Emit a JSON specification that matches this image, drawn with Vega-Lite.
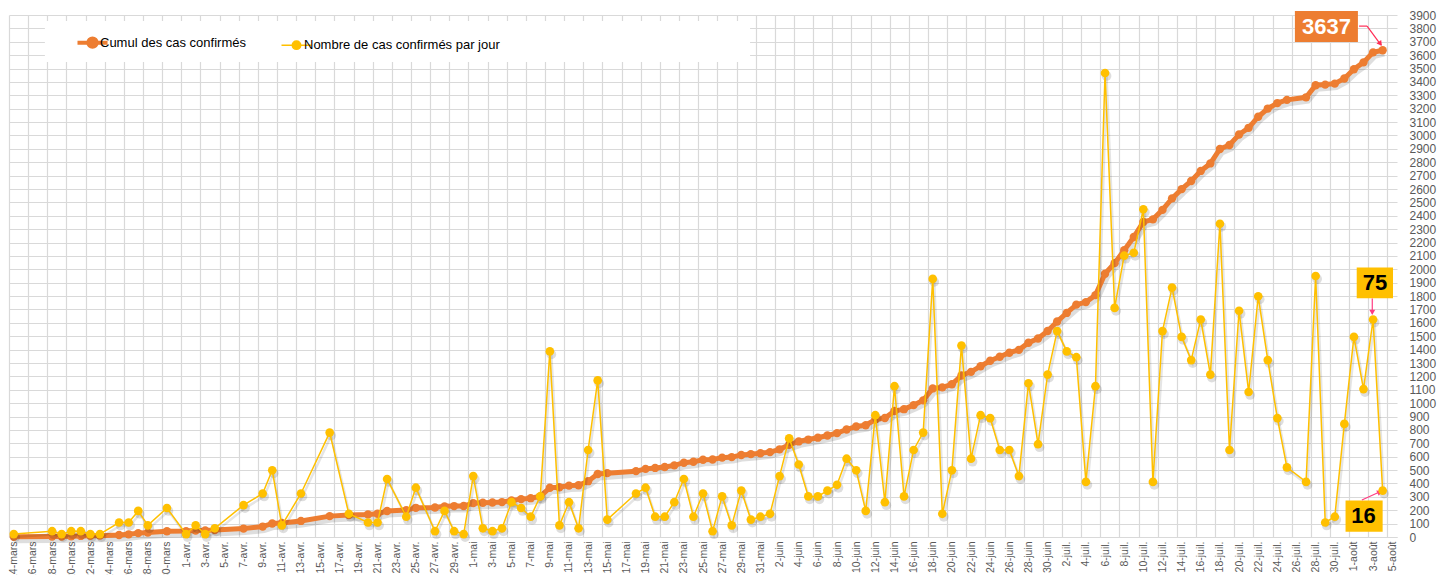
{
  "$schema": "https://vega.github.io/schema/vega-lite/v6.json",
  "width": 1388,
  "height": 522,
  "autosize": {"type": "none"},
  "padding": {"left": 9, "top": 15, "right": 43, "bottom": 38},
  "background": "white",
  "config": {"view": {"stroke": null}, "font": "Liberation Sans"},
  "datasets": {
    "covid": [
      {"date": "2020-03-14", "daily": 1, "cumul": 1},
      {"date": "2020-03-18", "daily": 2, "cumul": 3},
      {"date": "2020-03-19", "daily": 1, "cumul": 4},
      {"date": "2020-03-20", "daily": 2, "cumul": 6},
      {"date": "2020-03-21", "daily": 2, "cumul": 8},
      {"date": "2020-03-22", "daily": 1, "cumul": 9},
      {"date": "2020-03-23", "daily": 1, "cumul": 10},
      {"date": "2020-03-25", "daily": 5, "cumul": 15},
      {"date": "2020-03-26", "daily": 5, "cumul": 20},
      {"date": "2020-03-27", "daily": 9, "cumul": 29},
      {"date": "2020-03-28", "daily": 4, "cumul": 33},
      {"date": "2020-03-30", "daily": 10, "cumul": 43},
      {"date": "2020-04-01", "daily": 1, "cumul": 44},
      {"date": "2020-04-02", "daily": 4, "cumul": 48},
      {"date": "2020-04-03", "daily": 1, "cumul": 49},
      {"date": "2020-04-04", "daily": 3, "cumul": 52},
      {"date": "2020-04-07", "daily": 11, "cumul": 63},
      {"date": "2020-04-09", "daily": 15, "cumul": 78},
      {"date": "2020-04-10", "daily": 23, "cumul": 101},
      {"date": "2020-04-11", "daily": 4, "cumul": 105},
      {"date": "2020-04-13", "daily": 15, "cumul": 120},
      {"date": "2020-04-16", "daily": 36, "cumul": 156},
      {"date": "2020-04-18", "daily": 8, "cumul": 164},
      {"date": "2020-04-20", "daily": 5, "cumul": 169},
      {"date": "2020-04-21", "daily": 5, "cumul": 174},
      {"date": "2020-04-22", "daily": 20, "cumul": 194},
      {"date": "2020-04-24", "daily": 7, "cumul": 201},
      {"date": "2020-04-25", "daily": 17, "cumul": 218},
      {"date": "2020-04-27", "daily": 2, "cumul": 220},
      {"date": "2020-04-28", "daily": 9, "cumul": 229},
      {"date": "2020-04-29", "daily": 2, "cumul": 231},
      {"date": "2020-04-30", "daily": 1, "cumul": 232},
      {"date": "2020-05-01", "daily": 21, "cumul": 253},
      {"date": "2020-05-02", "daily": 3, "cumul": 256},
      {"date": "2020-05-03", "daily": 2, "cumul": 258},
      {"date": "2020-05-04", "daily": 3, "cumul": 261},
      {"date": "2020-05-05", "daily": 12, "cumul": 273},
      {"date": "2020-05-06", "daily": 10, "cumul": 283},
      {"date": "2020-05-07", "daily": 7, "cumul": 290},
      {"date": "2020-05-08", "daily": 14, "cumul": 304},
      {"date": "2020-05-09", "daily": 64, "cumul": 368},
      {"date": "2020-05-10", "daily": 4, "cumul": 372},
      {"date": "2020-05-11", "daily": 12, "cumul": 384},
      {"date": "2020-05-12", "daily": 3, "cumul": 387},
      {"date": "2020-05-13", "daily": 30, "cumul": 417},
      {"date": "2020-05-14", "daily": 54, "cumul": 471},
      {"date": "2020-05-15", "daily": 6, "cumul": 477},
      {"date": "2020-05-18", "daily": 15, "cumul": 492},
      {"date": "2020-05-19", "daily": 17, "cumul": 509},
      {"date": "2020-05-20", "daily": 7, "cumul": 516},
      {"date": "2020-05-21", "daily": 7, "cumul": 523},
      {"date": "2020-05-22", "daily": 12, "cumul": 535},
      {"date": "2020-05-23", "daily": 20, "cumul": 555},
      {"date": "2020-05-24", "daily": 7, "cumul": 562},
      {"date": "2020-05-25", "daily": 15, "cumul": 577},
      {"date": "2020-05-26", "daily": 2, "cumul": 579},
      {"date": "2020-05-27", "daily": 14, "cumul": 593},
      {"date": "2020-05-28", "daily": 4, "cumul": 597},
      {"date": "2020-05-29", "daily": 16, "cumul": 613},
      {"date": "2020-05-30", "daily": 6, "cumul": 619},
      {"date": "2020-05-31", "daily": 7, "cumul": 626},
      {"date": "2020-06-01", "daily": 8, "cumul": 634},
      {"date": "2020-06-02", "daily": 21, "cumul": 655},
      {"date": "2020-06-03", "daily": 34, "cumul": 689},
      {"date": "2020-06-04", "daily": 25, "cumul": 714},
      {"date": "2020-06-05", "daily": 14, "cumul": 728},
      {"date": "2020-06-06", "daily": 14, "cumul": 742},
      {"date": "2020-06-07", "daily": 16, "cumul": 758},
      {"date": "2020-06-08", "daily": 18, "cumul": 776},
      {"date": "2020-06-09", "daily": 27, "cumul": 803},
      {"date": "2020-06-10", "daily": 23, "cumul": 826},
      {"date": "2020-06-11", "daily": 9, "cumul": 835},
      {"date": "2020-06-12", "daily": 42, "cumul": 877},
      {"date": "2020-06-13", "daily": 12, "cumul": 889},
      {"date": "2020-06-14", "daily": 52, "cumul": 941},
      {"date": "2020-06-15", "daily": 14, "cumul": 955},
      {"date": "2020-06-16", "daily": 30, "cumul": 985},
      {"date": "2020-06-17", "daily": 36, "cumul": 1021},
      {"date": "2020-06-18", "daily": 89, "cumul": 1110},
      {"date": "2020-06-19", "daily": 8, "cumul": 1118},
      {"date": "2020-06-20", "daily": 23, "cumul": 1141},
      {"date": "2020-06-21", "daily": 66, "cumul": 1207},
      {"date": "2020-06-22", "daily": 27, "cumul": 1234},
      {"date": "2020-06-23", "daily": 42, "cumul": 1276},
      {"date": "2020-06-24", "daily": 41, "cumul": 1317},
      {"date": "2020-06-25", "daily": 30, "cumul": 1347},
      {"date": "2020-06-26", "daily": 30, "cumul": 1377},
      {"date": "2020-06-27", "daily": 21, "cumul": 1398},
      {"date": "2020-06-28", "daily": 53, "cumul": 1451},
      {"date": "2020-06-29", "daily": 32, "cumul": 1483},
      {"date": "2020-06-30", "daily": 56, "cumul": 1539},
      {"date": "2020-07-01", "daily": 71, "cumul": 1610},
      {"date": "2020-07-02", "daily": 64, "cumul": 1674},
      {"date": "2020-07-03", "daily": 62, "cumul": 1736},
      {"date": "2020-07-04", "daily": 19, "cumul": 1755},
      {"date": "2020-07-05", "daily": 52, "cumul": 1807},
      {"date": "2020-07-06", "daily": 160, "cumul": 1967},
      {"date": "2020-07-07", "daily": 79, "cumul": 2046},
      {"date": "2020-07-08", "daily": 97, "cumul": 2143},
      {"date": "2020-07-09", "daily": 98, "cumul": 2241},
      {"date": "2020-07-10", "daily": 113, "cumul": 2354},
      {"date": "2020-07-11", "daily": 19, "cumul": 2373},
      {"date": "2020-07-12", "daily": 71, "cumul": 2444},
      {"date": "2020-07-13", "daily": 86, "cumul": 2530},
      {"date": "2020-07-14", "daily": 69, "cumul": 2599},
      {"date": "2020-07-15", "daily": 61, "cumul": 2660},
      {"date": "2020-07-16", "daily": 75, "cumul": 2735},
      {"date": "2020-07-17", "daily": 56, "cumul": 2791},
      {"date": "2020-07-18", "daily": 108, "cumul": 2899},
      {"date": "2020-07-19", "daily": 30, "cumul": 2929},
      {"date": "2020-07-20", "daily": 78, "cumul": 3007},
      {"date": "2020-07-21", "daily": 50, "cumul": 3057},
      {"date": "2020-07-22", "daily": 83, "cumul": 3140},
      {"date": "2020-07-23", "daily": 61, "cumul": 3201},
      {"date": "2020-07-24", "daily": 41, "cumul": 3242},
      {"date": "2020-07-25", "daily": 24, "cumul": 3266},
      {"date": "2020-07-27", "daily": 19, "cumul": 3285},
      {"date": "2020-07-28", "daily": 90, "cumul": 3375},
      {"date": "2020-07-29", "daily": 5, "cumul": 3380},
      {"date": "2020-07-30", "daily": 7, "cumul": 3387},
      {"date": "2020-07-31", "daily": 39, "cumul": 3426},
      {"date": "2020-08-01", "daily": 69, "cumul": 3495},
      {"date": "2020-08-02", "daily": 51, "cumul": 3546},
      {"date": "2020-08-03", "daily": 75, "cumul": 3621},
      {"date": "2020-08-04", "daily": 16, "cumul": 3637}
    ]
  },
  "layer": [
    {
      "layer": [
        {
          "data": {"values": [{}]},
          "mark": {"type": "rect", "fill": "white", "stroke": null},
          "encoding": {
            "x": {"datum": {"year": 2020, "month": 3, "date": 17, "hours": 6, "utc": true}, "type": "temporal", "scale": {"type": "utc", "domain": [{"year": 2020, "month": 3, "date": 13, "hours": 12, "utc": true}, {"year": 2020, "month": 8, "date": 5, "hours": 12, "utc": true}]}},
            "x2": {"datum": {"year": 2020, "month": 5, "date": 29, "hours": 22, "utc": true}},
            "y": {"datum": 3855, "type": "quantitative", "scale": {"domain": [0, 3900]}},
            "y2": {"datum": 3549}
          }
        },
        {
          "data": {"name": "covid"},
          "mark": {"type": "line", "strokeWidth": 7, "stroke": "#000000", "opacity": 0.13, "xOffset": 1.5, "yOffset": 3},
          "encoding": {
            "x": {"field": "date", "type": "temporal", "scale": {"type": "utc", "domain": [{"year": 2020, "month": 3, "date": 13, "hours": 12, "utc": true}, {"year": 2020, "month": 8, "date": 5, "hours": 12, "utc": true}]}},
            "y": {"field": "cumul", "type": "quantitative", "scale": {"domain": [0, 3900]}}
          }
        },
        {
          "data": {"name": "covid"},
          "mark": {"type": "line", "strokeWidth": 5},
          "encoding": {
            "x": {
              "field": "date", "type": "temporal",
              "scale": {"type": "utc", "domain": [{"year": 2020, "month": 3, "date": 13, "hours": 12, "utc": true}, {"year": 2020, "month": 8, "date": 5, "hours": 12, "utc": true}]},
              "axis": {
                "title": null,
                "values": [
                  {"year": 2020, "month": 3, "date": 14, "utc": true}, {"year": 2020, "month": 3, "date": 16, "utc": true}, {"year": 2020, "month": 3, "date": 18, "utc": true},
                  {"year": 2020, "month": 3, "date": 20, "utc": true}, {"year": 2020, "month": 3, "date": 22, "utc": true}, {"year": 2020, "month": 3, "date": 24, "utc": true},
                  {"year": 2020, "month": 3, "date": 26, "utc": true}, {"year": 2020, "month": 3, "date": 28, "utc": true}, {"year": 2020, "month": 3, "date": 30, "utc": true},
                  {"year": 2020, "month": 4, "date": 1, "utc": true}, {"year": 2020, "month": 4, "date": 3, "utc": true}, {"year": 2020, "month": 4, "date": 5, "utc": true},
                  {"year": 2020, "month": 4, "date": 7, "utc": true}, {"year": 2020, "month": 4, "date": 9, "utc": true}, {"year": 2020, "month": 4, "date": 11, "utc": true},
                  {"year": 2020, "month": 4, "date": 13, "utc": true}, {"year": 2020, "month": 4, "date": 15, "utc": true}, {"year": 2020, "month": 4, "date": 17, "utc": true},
                  {"year": 2020, "month": 4, "date": 19, "utc": true}, {"year": 2020, "month": 4, "date": 21, "utc": true}, {"year": 2020, "month": 4, "date": 23, "utc": true},
                  {"year": 2020, "month": 4, "date": 25, "utc": true}, {"year": 2020, "month": 4, "date": 27, "utc": true}, {"year": 2020, "month": 4, "date": 29, "utc": true},
                  {"year": 2020, "month": 5, "date": 1, "utc": true}, {"year": 2020, "month": 5, "date": 3, "utc": true}, {"year": 2020, "month": 5, "date": 5, "utc": true},
                  {"year": 2020, "month": 5, "date": 7, "utc": true}, {"year": 2020, "month": 5, "date": 9, "utc": true}, {"year": 2020, "month": 5, "date": 11, "utc": true},
                  {"year": 2020, "month": 5, "date": 13, "utc": true}, {"year": 2020, "month": 5, "date": 15, "utc": true}, {"year": 2020, "month": 5, "date": 17, "utc": true},
                  {"year": 2020, "month": 5, "date": 19, "utc": true}, {"year": 2020, "month": 5, "date": 21, "utc": true}, {"year": 2020, "month": 5, "date": 23, "utc": true},
                  {"year": 2020, "month": 5, "date": 25, "utc": true}, {"year": 2020, "month": 5, "date": 27, "utc": true}, {"year": 2020, "month": 5, "date": 29, "utc": true},
                  {"year": 2020, "month": 5, "date": 31, "utc": true}, {"year": 2020, "month": 6, "date": 2, "utc": true}, {"year": 2020, "month": 6, "date": 4, "utc": true},
                  {"year": 2020, "month": 6, "date": 6, "utc": true}, {"year": 2020, "month": 6, "date": 8, "utc": true}, {"year": 2020, "month": 6, "date": 10, "utc": true},
                  {"year": 2020, "month": 6, "date": 12, "utc": true}, {"year": 2020, "month": 6, "date": 14, "utc": true}, {"year": 2020, "month": 6, "date": 16, "utc": true},
                  {"year": 2020, "month": 6, "date": 18, "utc": true}, {"year": 2020, "month": 6, "date": 20, "utc": true}, {"year": 2020, "month": 6, "date": 22, "utc": true},
                  {"year": 2020, "month": 6, "date": 24, "utc": true}, {"year": 2020, "month": 6, "date": 26, "utc": true}, {"year": 2020, "month": 6, "date": 28, "utc": true},
                  {"year": 2020, "month": 6, "date": 30, "utc": true}, {"year": 2020, "month": 7, "date": 2, "utc": true}, {"year": 2020, "month": 7, "date": 4, "utc": true},
                  {"year": 2020, "month": 7, "date": 6, "utc": true}, {"year": 2020, "month": 7, "date": 8, "utc": true}, {"year": 2020, "month": 7, "date": 10, "utc": true},
                  {"year": 2020, "month": 7, "date": 12, "utc": true}, {"year": 2020, "month": 7, "date": 14, "utc": true}, {"year": 2020, "month": 7, "date": 16, "utc": true},
                  {"year": 2020, "month": 7, "date": 18, "utc": true}, {"year": 2020, "month": 7, "date": 20, "utc": true}, {"year": 2020, "month": 7, "date": 22, "utc": true},
                  {"year": 2020, "month": 7, "date": 24, "utc": true}, {"year": 2020, "month": 7, "date": 26, "utc": true}, {"year": 2020, "month": 7, "date": 28, "utc": true},
                  {"year": 2020, "month": 7, "date": 30, "utc": true}, {"year": 2020, "month": 8, "date": 1, "utc": true}, {"year": 2020, "month": 8, "date": 3, "utc": true},
                  {"year": 2020, "month": 8, "date": 5, "utc": true}
                ],
                "tickCount": 300,
                "labelExpr": "utcdate(datum.value) + '-' + ['janv.','févr.','mars','avr.','mai','juin','juil.','août','sept.','oct.','nov.','déc.'][utcmonth(datum.value)]",
                "labelAngle": 270,
                "labelFontSize": 10.5,
                "labelColor": "#595959",
                "labelPadding": 4,
                "labelOverlap": false,
                "labelBound": false,
                "labelFlush": false,
                "tickOffset": -4.786,
                "labelOffset": 4.786,
                "ticks": false,
                "grid": true,
                "gridColor": "#D9D9D9",
                "gridWidth": 1.2,
                "domain": true,
                "domainColor": "#D9D9D9",
                "domainWidth": 1.2
              }
            },
            "y": {
              "field": "cumul", "type": "quantitative",
              "scale": {"domain": [0, 3900]},
              "axis": {
                "orient": "right",
                "title": null,
                "values": [0, 100, 200, 300, 400, 500, 600, 700, 800, 900, 1000, 1100, 1200, 1300, 1400, 1500, 1600, 1700, 1800, 1900, 2000, 2100, 2200, 2300, 2400, 2500, 2600, 2700, 2800, 2900, 3000, 3100, 3200, 3300, 3400, 3500, 3600, 3700, 3800, 3900],
                "tickCount": 200,
                "format": "d",
                "grid": true,
                "gridColor": "#D9D9D9",
                "gridWidth": 1.2,
                "ticks": false,
                "domain": false,
                "labelFontSize": 12,
                "labelColor": "#595959",
                "labelPadding": 12,
                "labelOverlap": false,
                "labelBound": false,
                "labelFlush": false
              }
            },
            "color": {
              "datum": "Cumul des cas confirmés",
              "scale": {"domain": ["Cumul des cas confirmés", "Nombre de cas confirmés par jour"], "range": ["#ED7D31", "#FFC000"]},
              "legend": {
                "orient": "none",
                "legendX": 77,
                "legendY": 21,
                "direction": "horizontal",
                "title": null,
                "padding": 0,
                "symbolType": "M-1,0L1,0M0.28,0A0.28,0.28,0,1,1,-0.28,0A0.28,0.28,0,1,1,0.28,0Z",
                "symbolSize": 900,
                "symbolStrokeWidth": 2,
                "labelFont": "Liberation Sans",
                "labelFontSize": 13,
                "labelColor": "#000000",
                "labelOffset": 1,
                "labelLimit": 400,
                "columnPadding": 32,
                "encode": {
                  "symbols": {
                    "update": {
                      "fill": {"scale": "color", "field": "value"},
                      "stroke": {"scale": "color", "field": "value"},
                      "strokeWidth": {"signal": "datum.value === 'Cumul des cas confirmés' ? 4 : 1.5"},
                      "opacity": {"value": 1}
                    }
                  }
                }
              }
            }
          }
        },
        {
          "data": {"name": "covid"},
          "mark": {"type": "circle", "size": 70, "opacity": 1},
          "encoding": {
            "x": {"field": "date", "type": "temporal", "scale": {"type": "utc", "domain": [{"year": 2020, "month": 3, "date": 13, "hours": 12, "utc": true}, {"year": 2020, "month": 8, "date": 5, "hours": 12, "utc": true}]}},
            "y": {"field": "cumul", "type": "quantitative", "scale": {"domain": [0, 3900]}},
            "color": {"datum": "Cumul des cas confirmés", "scale": {"domain": ["Cumul des cas confirmés", "Nombre de cas confirmés par jour"], "range": ["#ED7D31", "#FFC000"]}}
          }
        },
        {
          "data": {"values": [{}]},
          "mark": {"type": "rect", "fill": "#ED7D31"},
          "encoding": {
            "x": {"datum": {"year": 2020, "month": 7, "date": 25, "hours": 20, "utc": true}, "type": "temporal", "scale": {"type": "utc", "domain": [{"year": 2020, "month": 3, "date": 13, "hours": 12, "utc": true}, {"year": 2020, "month": 8, "date": 5, "hours": 12, "utc": true}]}},
            "x2": {"datum": {"year": 2020, "month": 8, "date": 1, "hours": 10, "utc": true}},
            "y": {"datum": 3930, "type": "quantitative", "scale": {"domain": [0, 3900]}},
            "y2": {"datum": 3698}
          }
        },
        {
          "data": {"values": [{}]},
          "mark": {"type": "text", "text": "3637", "fontWeight": "bold", "fontSize": 22, "fill": "white", "align": "center", "baseline": "middle"},
          "encoding": {
            "x": {"datum": {"year": 2020, "month": 7, "date": 29, "hours": 3, "utc": true}, "type": "temporal", "scale": {"type": "utc", "domain": [{"year": 2020, "month": 3, "date": 13, "hours": 12, "utc": true}, {"year": 2020, "month": 8, "date": 5, "hours": 12, "utc": true}]}},
            "y": {"datum": 3814, "type": "quantitative", "scale": {"domain": [0, 3900]}}
          }
        },
        {
          "data": {"values": [{}]},
          "mark": {"type": "rule", "stroke": "#FF2D55", "strokeWidth": 1.2},
          "encoding": {
            "x": {"datum": {"year": 2020, "month": 8, "date": 1, "hours": 13, "utc": true}, "type": "temporal", "scale": {"type": "utc", "domain": [{"year": 2020, "month": 3, "date": 13, "hours": 12, "utc": true}, {"year": 2020, "month": 8, "date": 5, "hours": 12, "utc": true}]}},
            "x2": {"datum": {"year": 2020, "month": 8, "date": 2, "hours": 9, "utc": true}},
            "y": {"datum": 3817, "type": "quantitative", "scale": {"domain": [0, 3900]}},
            "y2": {"datum": 3817}
          }
        },
        {
          "data": {"values": [{}]},
          "mark": {"type": "rule", "stroke": "#FF2D55", "strokeWidth": 1.2},
          "encoding": {
            "x": {"datum": {"year": 2020, "month": 8, "date": 2, "hours": 9, "utc": true}, "type": "temporal", "scale": {"type": "utc", "domain": [{"year": 2020, "month": 3, "date": 13, "hours": 12, "utc": true}, {"year": 2020, "month": 8, "date": 5, "hours": 12, "utc": true}]}},
            "x2": {"datum": {"year": 2020, "month": 8, "date": 3, "hours": 20, "utc": true}},
            "y": {"datum": 3817, "type": "quantitative", "scale": {"domain": [0, 3900]}},
            "y2": {"datum": 3675}
          }
        },
        {
          "data": {"values": [{}]},
          "mark": {"type": "point", "shape": "triangle", "filled": true, "size": 35, "angle": 143, "fill": "#FF2D55", "opacity": 1},
          "encoding": {
            "x": {"datum": {"year": 2020, "month": 8, "date": 3, "hours": 17, "utc": true}, "type": "temporal", "scale": {"type": "utc", "domain": [{"year": 2020, "month": 3, "date": 13, "hours": 12, "utc": true}, {"year": 2020, "month": 8, "date": 5, "hours": 12, "utc": true}]}},
            "y": {"datum": 3690, "type": "quantitative", "scale": {"domain": [0, 3900]}}
          }
        },
        {
          "data": {"values": [{}]},
          "mark": {"type": "rect", "fill": "#FFC000"},
          "encoding": {
            "x": {"datum": {"year": 2020, "month": 8, "date": 1, "hours": 7, "utc": true}, "type": "temporal", "scale": {"type": "utc", "domain": [{"year": 2020, "month": 3, "date": 13, "hours": 12, "utc": true}, {"year": 2020, "month": 8, "date": 5, "hours": 12, "utc": true}]}},
            "x2": {"datum": {"year": 2020, "month": 8, "date": 5, "hours": 2, "utc": true}},
            "y": {"datum": 2013, "type": "quantitative", "scale": {"domain": [0, 3900]}},
            "y2": {"datum": 1784}
          }
        },
        {
          "data": {"values": [{}]},
          "mark": {"type": "text", "text": "75", "fontWeight": "bold", "fontSize": 22, "fill": "black", "align": "center", "baseline": "middle"},
          "encoding": {
            "x": {"datum": {"year": 2020, "month": 8, "date": 3, "hours": 5, "utc": true}, "type": "temporal", "scale": {"type": "utc", "domain": [{"year": 2020, "month": 3, "date": 13, "hours": 12, "utc": true}, {"year": 2020, "month": 8, "date": 5, "hours": 12, "utc": true}]}},
            "y": {"datum": 1898, "type": "quantitative", "scale": {"domain": [0, 3900]}}
          }
        },
        {
          "data": {"values": [{}]},
          "mark": {"type": "rule", "stroke": "#FF3C82", "strokeWidth": 1.2},
          "encoding": {
            "x": {"datum": {"year": 2020, "month": 8, "date": 2, "hours": 22, "utc": true}, "type": "temporal", "scale": {"type": "utc", "domain": [{"year": 2020, "month": 3, "date": 13, "hours": 12, "utc": true}, {"year": 2020, "month": 8, "date": 5, "hours": 12, "utc": true}]}},
            "y": {"datum": 1782, "type": "quantitative", "scale": {"domain": [0, 3900]}},
            "y2": {"datum": 1670}
          }
        },
        {
          "data": {"values": [{}]},
          "mark": {"type": "point", "shape": "triangle", "filled": true, "size": 35, "angle": 180, "fill": "#FF3C82", "opacity": 1},
          "encoding": {
            "x": {"datum": {"year": 2020, "month": 8, "date": 2, "hours": 22, "utc": true}, "type": "temporal", "scale": {"type": "utc", "domain": [{"year": 2020, "month": 3, "date": 13, "hours": 12, "utc": true}, {"year": 2020, "month": 8, "date": 5, "hours": 12, "utc": true}]}},
            "y": {"datum": 1685, "type": "quantitative", "scale": {"domain": [0, 3900]}}
          }
        },
        {
          "data": {"values": [{}]},
          "mark": {"type": "rect", "fill": "#FFC000"},
          "encoding": {
            "x": {"datum": {"year": 2020, "month": 7, "date": 31, "hours": 3, "utc": true}, "type": "temporal", "scale": {"type": "utc", "domain": [{"year": 2020, "month": 3, "date": 13, "hours": 12, "utc": true}, {"year": 2020, "month": 8, "date": 5, "hours": 12, "utc": true}]}},
            "x2": {"datum": {"year": 2020, "month": 8, "date": 4, "hours": 0, "utc": true}},
            "y": {"datum": 273, "type": "quantitative", "scale": {"domain": [0, 3900]}},
            "y2": {"datum": 39}
          }
        },
        {
          "data": {"values": [{}]},
          "mark": {"type": "text", "text": "16", "fontWeight": "bold", "fontSize": 22, "fill": "black", "align": "center", "baseline": "middle"},
          "encoding": {
            "x": {"datum": {"year": 2020, "month": 8, "date": 2, "hours": 0, "utc": true}, "type": "temporal", "scale": {"type": "utc", "domain": [{"year": 2020, "month": 3, "date": 13, "hours": 12, "utc": true}, {"year": 2020, "month": 8, "date": 5, "hours": 12, "utc": true}]}},
            "y": {"datum": 157, "type": "quantitative", "scale": {"domain": [0, 3900]}}
          }
        },
        {
          "data": {"values": [{}]},
          "mark": {"type": "rule", "stroke": "#FF3C82", "strokeWidth": 1.2},
          "encoding": {
            "x": {"datum": {"year": 2020, "month": 8, "date": 1, "hours": 20, "utc": true}, "type": "temporal", "scale": {"type": "utc", "domain": [{"year": 2020, "month": 3, "date": 13, "hours": 12, "utc": true}, {"year": 2020, "month": 8, "date": 5, "hours": 12, "utc": true}]}},
            "x2": {"datum": {"year": 2020, "month": 8, "date": 3, "hours": 16, "utc": true}},
            "y": {"datum": 276, "type": "quantitative", "scale": {"domain": [0, 3900]}},
            "y2": {"datum": 336}
          }
        },
        {
          "data": {"values": [{}]},
          "mark": {"type": "point", "shape": "triangle", "filled": true, "size": 35, "angle": 65, "fill": "#FF3C82", "opacity": 1},
          "encoding": {
            "x": {"datum": {"year": 2020, "month": 8, "date": 3, "hours": 15, "utc": true}, "type": "temporal", "scale": {"type": "utc", "domain": [{"year": 2020, "month": 3, "date": 13, "hours": 12, "utc": true}, {"year": 2020, "month": 8, "date": 5, "hours": 12, "utc": true}]}},
            "y": {"datum": 333, "type": "quantitative", "scale": {"domain": [0, 3900]}}
          }
        }
      ]
    },
    {
      "layer": [
        {
          "data": {"name": "covid"},
          "mark": {"type": "line", "strokeWidth": 2.5, "stroke": "#000000", "opacity": 0.1, "xOffset": 1.5, "yOffset": 3},
          "encoding": {
            "x": {"field": "date", "type": "temporal", "scale": {"type": "utc", "domain": [{"year": 2020, "month": 3, "date": 13, "hours": 12, "utc": true}, {"year": 2020, "month": 8, "date": 5, "hours": 12, "utc": true}]}},
            "y": {"field": "daily", "type": "quantitative", "scale": {"domain": [0, 180]}, "axis": null}
          }
        },
        {
          "data": {"name": "covid"},
          "mark": {"type": "circle", "size": 95, "fill": "#000000", "opacity": 0.13, "xOffset": 1.5, "yOffset": 3},
          "encoding": {
            "x": {"field": "date", "type": "temporal", "scale": {"type": "utc", "domain": [{"year": 2020, "month": 3, "date": 13, "hours": 12, "utc": true}, {"year": 2020, "month": 8, "date": 5, "hours": 12, "utc": true}]}},
            "y": {"field": "daily", "type": "quantitative", "scale": {"domain": [0, 180]}, "axis": null}
          }
        },
        {
          "data": {"name": "covid"},
          "mark": {"type": "line", "strokeWidth": 1.5},
          "encoding": {
            "x": {"field": "date", "type": "temporal", "scale": {"type": "utc", "domain": [{"year": 2020, "month": 3, "date": 13, "hours": 12, "utc": true}, {"year": 2020, "month": 8, "date": 5, "hours": 12, "utc": true}]}},
            "y": {"field": "daily", "type": "quantitative", "scale": {"domain": [0, 180]}, "axis": null},
            "color": {"datum": "Nombre de cas confirmés par jour", "scale": {"domain": ["Cumul des cas confirmés", "Nombre de cas confirmés par jour"], "range": ["#ED7D31", "#FFC000"]}}
          }
        },
        {
          "data": {"name": "covid"},
          "mark": {"type": "circle", "size": 75, "opacity": 1},
          "encoding": {
            "x": {"field": "date", "type": "temporal", "scale": {"type": "utc", "domain": [{"year": 2020, "month": 3, "date": 13, "hours": 12, "utc": true}, {"year": 2020, "month": 8, "date": 5, "hours": 12, "utc": true}]}},
            "y": {"field": "daily", "type": "quantitative", "scale": {"domain": [0, 180]}, "axis": null},
            "color": {"datum": "Nombre de cas confirmés par jour", "scale": {"domain": ["Cumul des cas confirmés", "Nombre de cas confirmés par jour"], "range": ["#ED7D31", "#FFC000"]}}
          }
        }
      ]
    }
  ],
  "resolve": {"scale": {"y": "independent"}, "axis": {"y": "independent"}}
}
